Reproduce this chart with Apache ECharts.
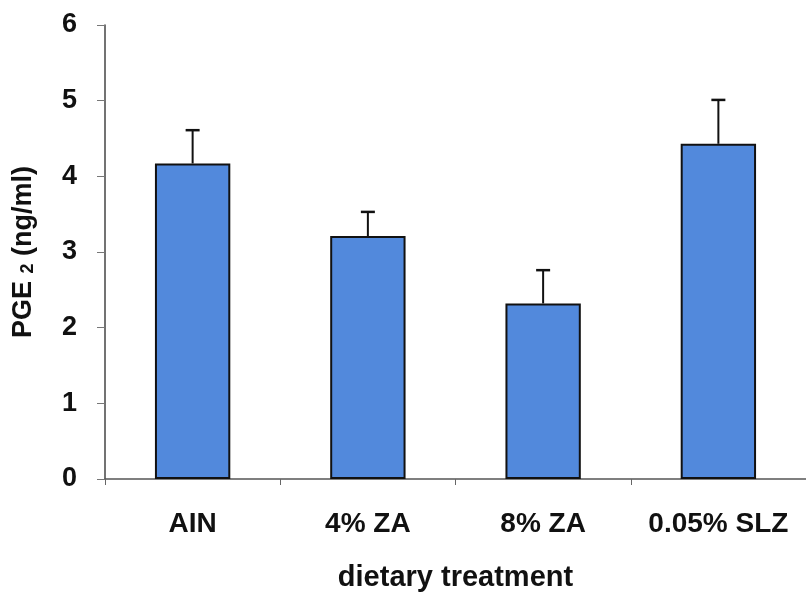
<!DOCTYPE html>
<html>
<head>
<meta charset="utf-8">
<script src="https://cdn.jsdelivr.net/npm/echarts@6/dist/echarts.min.js"></script>
<style>
  html, body { margin: 0; padding: 0; background: #fff; }
  #main { width: 806px; height: 594px; }
</style>
</head>
<body>
<div id="main"></div>
<script>
// data
var categories = ['AIN', '4% ZA', '8% ZA', '0.05% SLZ'];
var means = [4.17, 3.21, 2.32, 4.43];
var errTop = [4.61, 3.53, 2.76, 5.01];
var yTicks = [0, 1, 2, 3, 4, 5, 6];

var chart = echarts.init(document.getElementById('main'));

var errData = categories.map(function (c, i) { return [i, means[i], errTop[i]]; });

var option = {
  animation: false,
  grid: { left: 105, top: 25, right: 0, bottom: 115, outerBoundsMode: 'none', containLabel: false },
  textStyle: { fontFamily: 'Liberation Sans, Arial, sans-serif' },
  xAxis: {
    type: 'category',
    data: categories,
    name: 'dietary treatment',
    nameLocation: 'middle',
    nameGap: 84,
    nameTextStyle: { fontSize: 29, fontWeight: 'bold', color: '#111' },
    axisLine: { lineStyle: { color: '#555', width: 1.5 } },
    axisTick: { show: true, interval: 0, length: 6, lineStyle: { color: '#666' } },
    axisLabel: { interval: 0, fontSize: 28, fontWeight: 'bold', color: '#111', margin: 31 }
  },
  yAxis: {
    type: 'value',
    min: yTicks[0],
    max: yTicks[yTicks.length - 1],
    interval: 1,
    name: 'PGE {sub|2} (ng/ml)',
    nameLocation: 'middle',
    nameGap: 68,
    nameRotate: 90,
    nameTextStyle: {
      fontSize: 27, fontWeight: 'bold', color: '#111',
      rich: { sub: { fontSize: 18, fontWeight: 'bold', color: '#111', padding: [9, 0, 0, 0] } }
    },
    splitLine: { show: false },
    axisLine: { show: true, lineStyle: { color: '#444', width: 1.5 } },
    axisTick: { show: true, length: 8, lineStyle: { color: '#777' } },
    axisLabel: { fontSize: 27, fontWeight: 'bold', color: '#111', margin: 28 }
  },
  series: [
    {
      type: 'bar',
      data: means,
      barWidth: '43%',
      itemStyle: { color: '#5289dc', borderColor: '#111', borderWidth: 2 }
    },
    {
      type: 'custom',
      data: errData,
      z: 1,
      renderItem: function (params, api) {
        var base = api.coord([api.value(0), api.value(1)]);
        var top = api.coord([api.value(0), api.value(2)]);
        var half = 7;
        return {
          type: 'group',
          children: [
            { type: 'line', shape: { x1: base[0], y1: base[1], x2: top[0], y2: top[1] },
              style: { stroke: '#111', lineWidth: 2 } },
            { type: 'line', shape: { x1: top[0] - half, y1: top[1], x2: top[0] + half, y2: top[1] },
              style: { stroke: '#111', lineWidth: 2.5 } }
          ]
        };
      }
    }
  ]
};

chart.setOption(option);
</script>
</body>
</html>
